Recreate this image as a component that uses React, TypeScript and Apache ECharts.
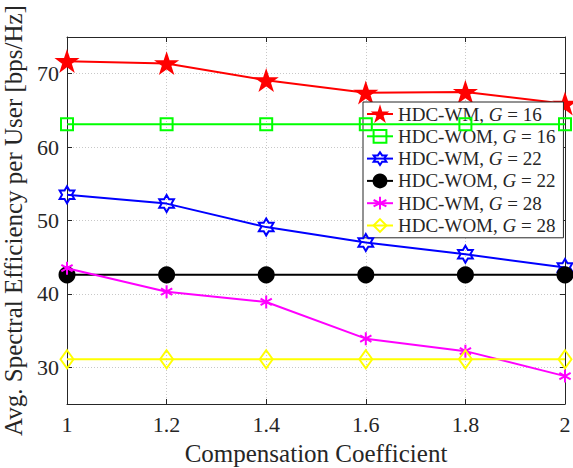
import React, { useEffect, useRef } from 'react';
import * as echarts from 'echarts';

const xValues = [1, 1.2, 1.4, 1.6, 1.8, 2];
const wmG16 = [71.7, 71.4, 69.1, 67.4, 67.5, 65.9];
const womG16 = [63.1, 63.1, 63.1, 63.1, 63.1, 63.1];
const wmG22 = [53.5, 52.3, 49.1, 47.0, 45.4, 43.6];
const womG22 = [42.6, 42.6, 42.6, 42.6, 42.6, 42.6];
const wmG28 = [43.5, 40.3, 38.9, 33.9, 32.2, 28.8];
const womG28 = [31.1, 31.1, 31.1, 31.1, 31.1, 31.1];

const methods = ['HDC-WM', 'HDC-WOM', 'HDC-WM', 'HDC-WOM', 'HDC-WM', 'HDC-WOM'];
const gValues = [16, 16, 22, 22, 28, 28];

const STAR5 =
  'path://M0,-1L0.225,-0.309L0.951,-0.309L0.363,0.118L0.588,0.809L0,0.382L-0.588,0.809L-0.363,0.118L-0.951,-0.309L-0.225,-0.309Z';
const HEXAGRAM =
  'path://M0,-1L0.289,-0.5L0.866,-0.5L0.577,0L0.866,0.5L0.289,0.5L0,1L-0.289,0.5L-0.866,0.5L-0.577,0L-0.866,-0.5L-0.289,-0.5Z';
const ASTERISK =
  'path://M0,-1L0,1M-0.866,-0.5L0.866,0.5M-0.866,0.5L0.866,-0.5M0,-1Z';

const FONT = 'Liberation Serif';
const TXT = '#262626';

export default function App() {
  const ref = useRef<HTMLDivElement>(null);
  useEffect(() => {
    if (!ref.current) return;
    const chart = echarts.init(ref.current, undefined, { renderer: 'svg' });
    const all = [wmG16, womG16, wmG22, womG22, wmG28, womG28];
    const colors = ['#ff0000', '#00ff00', '#0000ff', '#000000', '#ff00ff', '#ffff00'];
    const symbols = [STAR5, 'rect', HEXAGRAM, 'circle', ASTERISK, 'diamond'];
    const sizes: any[] = [19, 12, 17, 15, 13, [13, 18]];
    const filled = [true, false, false, true, false, false];
    const names = methods.map((m, i) => `${m}, G = ${gValues[i]}`);
    const series = all.map((vals, i) => ({
      name: names[i],
      type: 'line',
      data: xValues.map((x, j) => [x, vals[j]]),
      symbol: symbols[i],
      symbolSize: sizes[i],
      symbolKeepAspect: true,
      showAllSymbol: true,
      lineStyle: { color: colors[i], width: 2 },
      itemStyle: {
        color: filled[i] ? colors[i] : 'transparent',
        borderColor: colors[i],
        borderWidth: 2,
      },
      z: 3 + i,
    }));
    chart.setOption({
      animation: false,
      backgroundColor: '#fff',
      grid: { left: 67, right: 8, top: 37, bottom: 64, containLabel: false, outerBoundsMode: 'none' },
      legend: {
        left: 363,
        top: 102,
        orient: 'vertical',
        backgroundColor: '#fff',
        borderColor: TXT,
        borderWidth: 1,
        borderRadius: 0,
        padding: [2.5, 8, 2.8, 3],
        itemWidth: 26,
        itemHeight: 16,
        itemGap: 3.3,
        data: names,
        formatter: (name: string) => {
          const idx = names.indexOf(name);
          return `{a|${methods[idx]}, }{i|G}{a| = ${gValues[idx]}}`;
        },
        textStyle: {
          rich: {
            a: { fontFamily: FONT, fontSize: 19, lineHeight: 19, color: TXT },
            i: { fontFamily: FONT, fontSize: 19, lineHeight: 19, color: TXT, fontStyle: 'italic' },
          },
        },
      },
      xAxis: [
        {
          type: 'value',
          min: 1,
          max: 2,
          interval: 0.2,
          name: 'Compensation Coefficient',
          nameLocation: 'middle',
          nameGap: 37,
          nameTextStyle: { fontFamily: FONT, fontSize: 25, color: TXT },
          axisLine: { lineStyle: { color: TXT, width: 1 } },
          axisTick: { inside: true, length: 5, lineStyle: { color: TXT } },
          axisLabel: {
            fontFamily: FONT,
            fontSize: 22,
            color: TXT,
            margin: 9,
            formatter: (v: number) => String(Math.round(v * 10) / 10),
          },
          splitLine: { show: true, lineStyle: { color: '#c8c8c8', type: [1, 2], width: 1 } },
        },
        {
          type: 'value',
          position: 'top',
          min: 1,
          max: 2,
          interval: 0.2,
          axisLine: { show: true, lineStyle: { color: TXT, width: 1 } },
          axisTick: { show: true, inside: true, length: 5, lineStyle: { color: TXT } },
          axisLabel: { show: false },
          splitLine: { show: false },
        },
      ],
      yAxis: [
        {
          type: 'value',
          min: 25,
          max: 75,
          splitNumber: 5,
          name: 'Avg. Spectral Efficiency per User [bps/Hz]',
          nameLocation: 'middle',
          nameGap: 33,
          nameTextStyle: { fontFamily: FONT, fontSize: 25, color: TXT },
          axisLine: { show: true, lineStyle: { color: TXT, width: 1 } },
          axisTick: { show: true, inside: true, length: 5, lineStyle: { color: TXT } },
          axisLabel: {
            fontFamily: FONT,
            fontSize: 22,
            color: TXT,
            margin: 8,
            showMinLabel: false,
            showMaxLabel: false,
          },
          splitLine: { show: true, lineStyle: { color: '#c8c8c8', type: [1, 2], width: 1 } },
        },
        {
          type: 'value',
          position: 'right',
          min: 25,
          max: 75,
          splitNumber: 5,
          axisLine: { show: true, lineStyle: { color: TXT, width: 1 } },
          axisTick: { show: true, inside: true, length: 5, lineStyle: { color: TXT } },
          axisLabel: { show: false },
          splitLine: { show: false },
        },
      ],
      series,
    });
    return () => chart.dispose();
  }, []);
  return <div ref={ref} style={{ width: 573, height: 468, position: 'absolute', left: 0, top: 0 }} />;
}
